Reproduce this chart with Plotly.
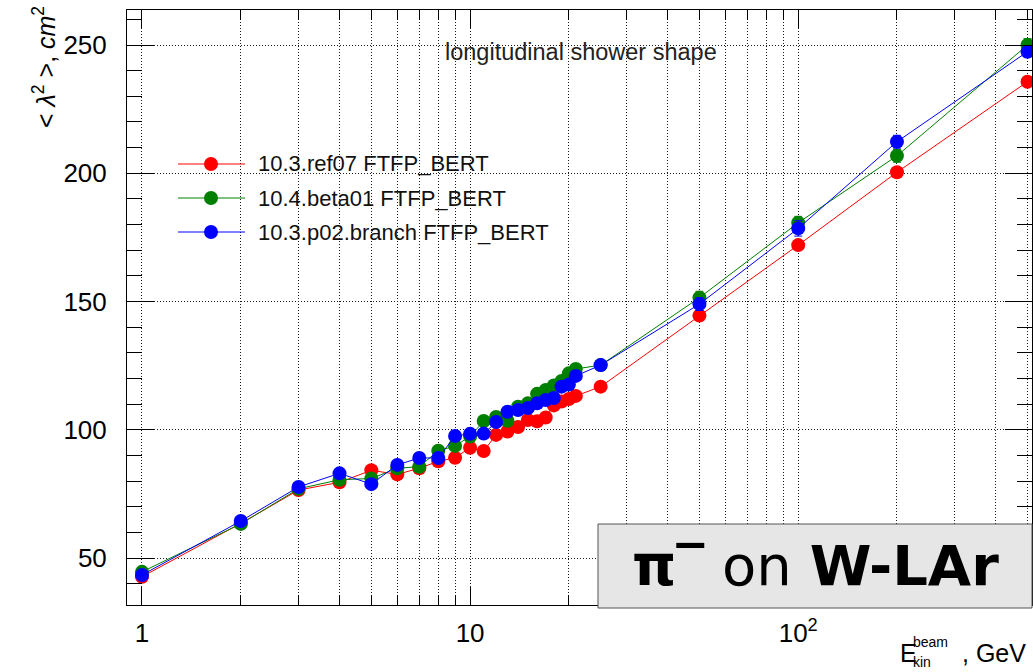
import plotly.graph_objects as go

# Beam kinetic energy points (GeV)
energy = [1, 2, 3, 4, 5, 6, 7, 8, 9, 10, 11, 12, 13, 14, 15, 16, 17, 18, 19, 20, 21, 25, 50, 100, 200, 500]

# <lambda^2> (cm^2) for each Geant4 version
ref07 = [42.7, 63.5, 76.5, 79.5, 84.2, 82.6, 85.0, 87.7, 89.1, 93.0, 91.7, 98.0, 99.3, 101.1, 103.8,
         103.3, 104.8, 109.5, 111.0, 112.0, 113.2, 116.8, 144.5, 172.0, 200.4, 235.7]
beta01 = [44.6, 63.3, 77.0, 80.5, 81.0, 85.0, 85.6, 91.8, 93.7, 97.4, 103.4, 105.0, 103.5, 109.0, 110.3,
          114.0, 115.5, 117.3, 119.0, 122.0, 123.7, 125.2, 151.5, 180.7, 206.8, 250.0]
p02 = [43.4, 64.4, 77.7, 83.0, 78.8, 86.3, 89.0, 89.0, 97.6, 98.4, 98.5, 103.0, 107.0, 107.7, 108.5,
       110.3, 111.6, 112.4, 116.8, 117.6, 121.0, 125.2, 149.0, 178.5, 212.3, 247.4]

# statistical errors (only visible beyond the marker at high energy)
ref07_err = [0] * 22 + [1.5, 1.5, 1.5, 1.5]
beta01_err = [0] * 22 + [2.5, 2.5, 2.5, 2.5]
p02_err = [0] * 22 + [2.5, 3.0, 2.5, 2.0]

series_names = ["10.3.ref07 FTFP_BERT", "10.4.beta01 FTFP_BERT", "10.3.p02.branch FTFP_BERT"]
series_values = [ref07, beta01, p02]
series_errors = [ref07_err, beta01_err, p02_err]
series_colors = ["#ff0000", "#008000", "#0000ff"]

x_major = [1, 10, 100]
x_major_text = ["1", "10", "10<sup>2</sup>"]
x_minor = [2, 3, 4, 5, 6, 7, 8, 9, 20, 30, 40, 50, 60, 70, 80, 90, 200, 300, 400, 500]
y_major = [50, 100, 150, 200, 250]

W, H = 1033, 672
L, R, T, B = 127, 1032, 10, 605
FONT = "Liberation Sans, Arial, Helvetica, sans-serif"


def px(xp):
    return (xp - L) / (R - L)


def py(yp):
    return (B - yp) / (B - T)


fig = go.Figure()
for name, vals, errs, col in zip(series_names, series_values, series_errors, series_colors):
    fig.add_trace(go.Scatter(
        x=energy, y=vals, name=name, mode="lines+markers",
        line=dict(color=col, width=1),
        marker=dict(color=col, size=14, symbol="circle"),
        error_y=dict(type="data", array=errs, color=col, thickness=1, width=4),
    ))

grid_dash = "1px,2px"
grid_col = "#1a1a1a"

fig.update_xaxes(
    type="log", range=[-0.0457, 2.7126],
    tickvals=x_major, ticktext=x_major_text,
    ticks="inside", ticklen=18, tickcolor="black", tickwidth=1,
    showline=True, linecolor="black", linewidth=1, mirror="allticks",
    showgrid=True, gridcolor=grid_col, griddash=grid_dash, gridwidth=1,
    tickfont=dict(family=FONT, size=26, color="black"),
    ticklabelstandoff=5,
    minor=dict(tickvals=x_minor, ticks="inside", ticklen=10, tickcolor="black",
               showgrid=True, gridcolor=grid_col, griddash=grid_dash, gridwidth=1),
    zeroline=False,
)
fig.update_yaxes(
    range=[31.68, 263.65], tickvals=y_major,
    ticks="inside", ticklen=27, tickcolor="black", tickwidth=1,
    showline=True, linecolor="black", linewidth=1, mirror="allticks",
    showgrid=True, gridcolor=grid_col, griddash=grid_dash, gridwidth=1,
    tickfont=dict(family=FONT, size=26, color="black"),
    ticklabelstandoff=14,
    minor=dict(dtick=10, ticks="inside", ticklen=15, tickcolor="black", showgrid=False),
    zeroline=False,
)

shapes = []
annotations = []

# legend drawn in the upper-left corner of the frame
legend_rows = [164, 198, 232]
for name, col, yrow in zip(series_names, series_colors, legend_rows):
    shapes.append(dict(type="line", xref="paper", yref="paper",
                       x0=px(178), x1=px(245), y0=py(yrow), y1=py(yrow),
                       line=dict(color=col, width=1)))
    shapes.append(dict(type="circle", xref="paper", yref="paper",
                       xsizemode="pixel", ysizemode="pixel",
                       xanchor=px(211), yanchor=py(yrow),
                       x0=-7, x1=7, y0=-7, y1=7,
                       fillcolor=col, line=dict(color=col, width=0)))
    annotations.append(dict(xref="paper", yref="paper", x=px(256), y=py(yrow),
                            xanchor="left", yanchor="middle", showarrow=False,
                            text=name, font=dict(family=FONT, size=22, color="#111111")))

# label box in the lower-right corner
shapes.append(dict(type="rect", xref="paper", yref="paper",
                   x0=px(598), x1=px(1032), y0=py(608), y1=py(524),
                   fillcolor="#e6e6e6", line=dict(color="#555555", width=1), layer="above"))
annotations.append(dict(xref="paper", yref="paper", x=px(815), y=py(565),
                        xanchor="center", yanchor="middle", showarrow=False,
                        text="<b>π‾</b> on <b>W-LAr</b>",
                        font=dict(family="DejaVu Sans, sans-serif", size=56, color="black")))

# plot caption
annotations.append(dict(xref="paper", yref="paper", x=px(443), y=py(52),
                        xanchor="left", yanchor="middle", showarrow=False,
                        text="longitudinal shower shape",
                        font=dict(family=FONT, size=23.5, color="#222222")))

# y-axis title, aligned to the top of the axis
annotations.append(dict(xref="paper", yref="paper", x=px(44), y=py(4),
                        xanchor="center", yanchor="top", showarrow=False, textangle=-90,
                        text="< <i>λ</i><sup>2</sup> >, <i>cm</i><sup>2</sup>",
                        font=dict(family=FONT, size=25, color="black")))

# x-axis title: E with stacked super/subscripts, then unit
annotations.append(dict(xref="paper", yref="paper", x=px(898), y=py(653),
                        xanchor="left", yanchor="middle", showarrow=False,
                        text="E", font=dict(family=FONT, size=25, color="black")))
annotations.append(dict(xref="paper", yref="paper", x=px(911), y=py(642),
                        xanchor="left", yanchor="middle", showarrow=False,
                        text="beam", font=dict(family=FONT, size=14, color="black")))
annotations.append(dict(xref="paper", yref="paper", x=px(911), y=py(662),
                        xanchor="left", yanchor="middle", showarrow=False,
                        text="kin", font=dict(family=FONT, size=14, color="black")))
annotations.append(dict(xref="paper", yref="paper", x=px(960), y=py(653),
                        xanchor="left", yanchor="middle", showarrow=False,
                        text=", GeV", font=dict(family=FONT, size=25, color="black")))

fig.update_layout(
    width=W, height=H,
    margin=dict(l=L, r=W - R, t=T, b=H - B, pad=0),
    paper_bgcolor="white", plot_bgcolor="white",
    showlegend=False,
    shapes=shapes, annotations=annotations,
)

fig.write_html("out.html")
